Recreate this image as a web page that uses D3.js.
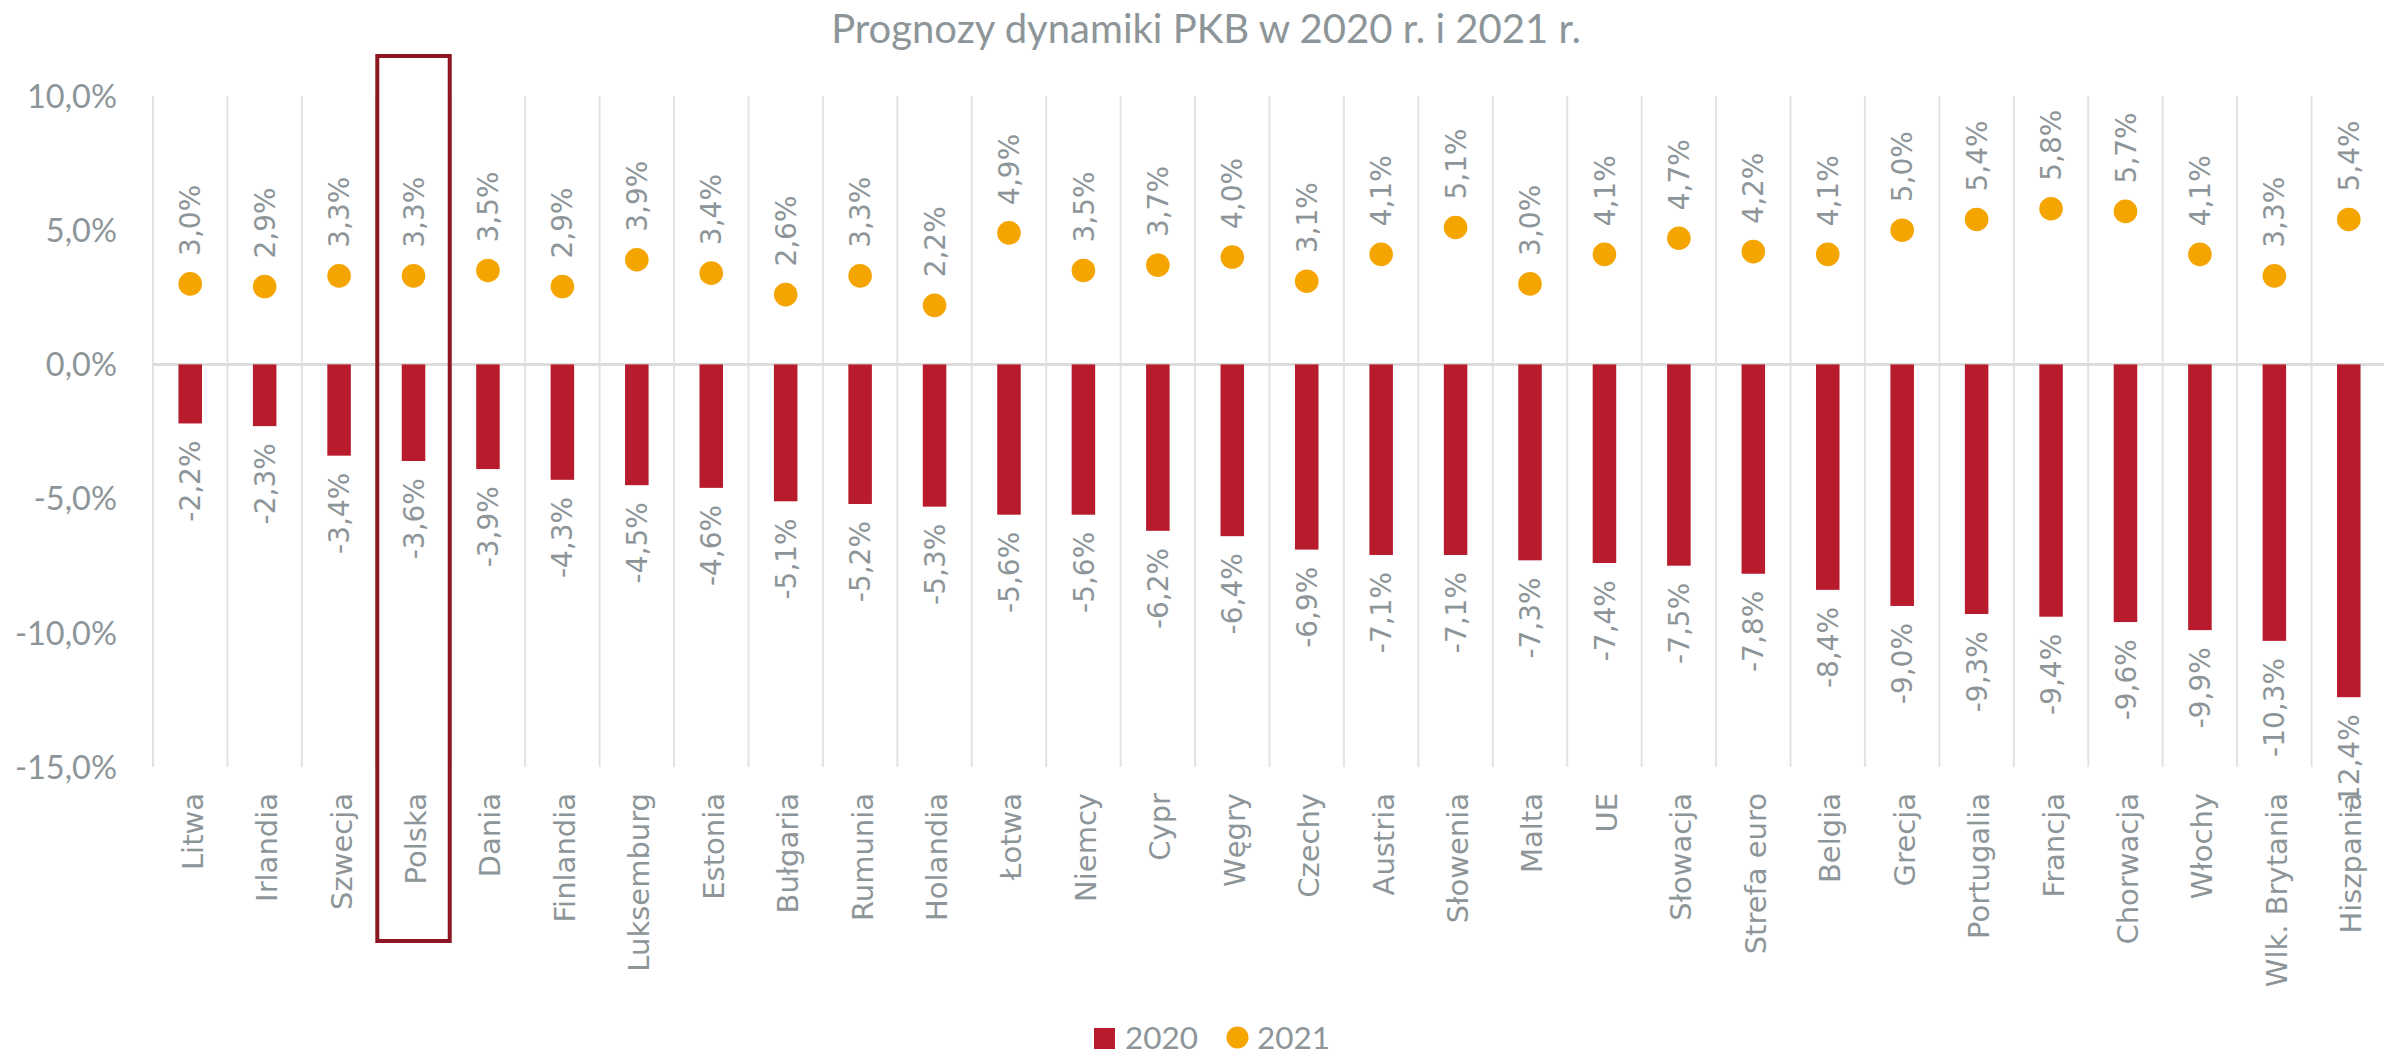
<!DOCTYPE html>
<html><head><meta charset="utf-8">
<script src="https://cdn.jsdelivr.net/npm/d3@7"></script>
<style>html,body{margin:0;padding:0;background:#fff;}</style>
</head><body>
<svg id="chart" width="2384" height="1058"></svg>
<script>
const title = "Prognozy dynamiki PKB w 2020 r. i 2021 r.";
const categories = ["Litwa","Irlandia","Szwecja","Polska","Dania","Finlandia","Luksemburg","Estonia","Bułgaria","Rumunia","Holandia","Łotwa","Niemcy","Cypr","Węgry","Czechy","Austria","Słowenia","Malta","UE","Słowacja","Strefa euro","Belgia","Grecja","Portugalia","Francja","Chorwacja","Włochy","Wlk. Brytania","Hiszpania"];
const values2020 = [-2.2,-2.3,-3.4,-3.6,-3.9,-4.3,-4.5,-4.6,-5.1,-5.2,-5.3,-5.6,-5.6,-6.2,-6.4,-6.9,-7.1,-7.1,-7.3,-7.4,-7.5,-7.8,-8.4,-9.0,-9.3,-9.4,-9.6,-9.9,-10.3,-12.4];
const values2021 = [3.0,2.9,3.3,3.3,3.5,2.9,3.9,3.4,2.6,3.3,2.2,4.9,3.5,3.7,4.0,3.1,4.1,5.1,3.0,4.1,4.7,4.2,4.1,5.0,5.4,5.8,5.7,4.1,3.3,5.4];
const yTicks = [10,5,0,-5,-10,-15];
const seriesNames = ["2020","2021"];
const highlighted = "Polska";

const W = 2384, H = 1058;
const m = {left:153, right:2386, top:96, bottom:767};
const gray = "#8d9598";
const red = "#b71b2c";
const orange = "#f5a500";
const narrow = "Lato, 'Open Sans', sans-serif";
const wide = "'DejaVu Sans', Verdana, sans-serif";

const svg = d3.select("#chart");
svg.append("rect").attr("width",W).attr("height",H).attr("fill","#fff");

// fit font size of a text node to a target width
function fitWidth(sel, target) {
  const node = sel.node();
  const fs = parseFloat(sel.attr("font-size"));
  const w = node.getComputedTextLength();
  if (w > 0) sel.attr("font-size", (fs * target / w).toFixed(2));
}

const x = d3.scaleBand().domain(categories).range([m.left, m.right]).paddingInner(0).paddingOuter(0);
const y = d3.scaleLinear().domain([-15,10]).range([m.bottom, m.top]);
const fmt = v => d3.format(".1f")(v).replace(".", ",").replace("−","-") + "%";

// vertical gridlines at category boundaries
const bounds = categories.map(c => x(c));
svg.append("g").selectAll("line").data(bounds).join("line")
  .attr("x1", d=>d).attr("x2", d=>d).attr("y1", m.top).attr("y2", m.bottom)
  .attr("stroke","#e3e3e3").attr("stroke-width",2);

// zero line
svg.append("line").attr("x1", m.left).attr("x2", m.right).attr("y1", y(0)).attr("y2", y(0))
  .attr("stroke","#dcdcdc").attr("stroke-width",3);

// y axis labels
const yAxis = d3.axisLeft(y).tickValues(yTicks).tickSize(0).tickPadding(0).tickFormat(fmt);
const gy = svg.append("g").attr("transform", `translate(${117},0)`).call(yAxis);
gy.select(".domain").remove();
gy.selectAll("text").attr("fill", gray).attr("font-family", narrow).attr("font-size", 32).attr("dy","0.35em");
{
  const t = gy.selectAll("text").filter(d => d === 10);
  fitWidth(t, 90);
  const fs = t.attr("font-size");
  gy.selectAll("text").attr("font-size", fs);
}

// bars
const bw = x.bandwidth()*0.316;
svg.append("g").selectAll("rect").data(values2020).join("rect")
  .attr("x", (d,i)=> x(categories[i]) + x.bandwidth()/2 - bw/2)
  .attr("y", d=> y(Math.max(0,d)))
  .attr("width", bw)
  .attr("height", d=> Math.abs(y(d)-y(0)))
  .attr("fill", red);

// bar labels
svg.append("g").selectAll("text").data(values2020).join("text")
  .attr("transform", (d,i)=> `translate(${x(categories[i]) + x.bandwidth()/2},${y(d)+17}) rotate(-90)`)
  .attr("text-anchor","end").attr("dy","0.36em")
  .attr("fill", gray).attr("font-family", wide).attr("font-size", 28)
  .text(d=>fmt(d));

// dots
svg.append("g").selectAll("circle").data(values2021).join("circle")
  .attr("cx", (d,i)=> x(categories[i]) + x.bandwidth()/2)
  .attr("cy", d=> y(d))
  .attr("r", 11.8)
  .attr("fill", orange);

// dot labels
svg.append("g").selectAll("text").data(values2021).join("text")
  .attr("transform", (d,i)=> `translate(${x(categories[i]) + x.bandwidth()/2},${y(d)-28}) rotate(-90)`)
  .attr("text-anchor","start").attr("dy","0.36em")
  .attr("fill", gray).attr("font-family", wide).attr("font-size", 28)
  .text(d=>fmt(d));

// category labels
svg.append("g").selectAll("text").data(categories).join("text")
  .attr("transform", d=> `translate(${x(d) + x.bandwidth()/2 + 2},${793}) rotate(-90)`)
  .attr("text-anchor","end").attr("dy","0.36em")
  .attr("fill", gray).attr("font-family", wide).attr("font-size", 29)
  .text(d=>d);

// highlight box
svg.append("rect")
  .attr("x", x(highlighted)+1).attr("y", 56)
  .attr("width", x.bandwidth()-2).attr("height", 941-56)
  .attr("fill","none").attr("stroke","#8e1522").attr("stroke-width",4);

// title
const tt = svg.append("text").attr("x", 1206).attr("y", 43).attr("text-anchor","middle")
  .attr("fill", gray).attr("font-family", narrow).attr("font-size", 40)
  .text(title);
fitWidth(tt, 750);

// legend
const lg = svg.append("g").attr("transform","translate(0,-4)");
lg.append("rect").attr("x",1094).attr("y",1032).attr("width",21).attr("height",21).attr("fill",red);
const l1 = lg.append("text").attr("x",1125).attr("y",1053).attr("fill",gray).attr("font-family",narrow).attr("font-size",31).text(seriesNames[0]);
fitWidth(l1, 73);
lg.append("circle").attr("cx",1237.5).attr("cy",1041.5).attr("r",11).attr("fill",orange);
lg.append("text").attr("x",1257).attr("y",1053).attr("fill",gray).attr("font-family",narrow).attr("font-size",l1.attr("font-size")).text(seriesNames[1]);
</script>
</body></html>
